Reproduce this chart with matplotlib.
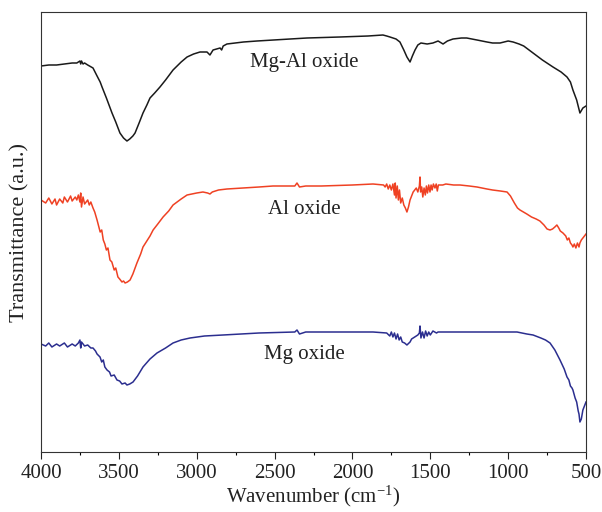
import matplotlib
matplotlib.use("Agg")
import matplotlib.pyplot as plt
from matplotlib.ticker import MultipleLocator

plt.rcParams['font.family'] = ['Liberation Serif', 'DejaVu Serif']
plt.rcParams['mathtext.fontset'] = 'custom'
plt.rcParams['mathtext.rm'] = 'Liberation Serif'
plt.rcParams['mathtext.it'] = 'Liberation Serif:italic'

# ---- data (arbitrary transmittance units, curves offset/stacked) ----
mgal_w = [4000, 3950, 3900, 3850, 3800, 3770, 3760, 3750, 3745, 3740,
          3730, 3720, 3700, 3666, 3640, 3620, 3608, 3580, 3544, 3520,
          3493, 3470, 3448, 3430, 3410, 3396, 3370, 3345, 3320, 3300,
          3270, 3236, 3200, 3152, 3100, 3062, 3020, 2979, 2934, 2915,
          2895, 2850, 2840, 2830, 2806, 2700, 2613, 2400, 2292, 2080,
          1900, 1804, 1780, 1759, 1720, 1695, 1670, 1650, 1630, 1615,
          1598, 1580, 1560, 1520, 1483, 1450, 1418, 1390, 1354, 1300,
          1266, 1200, 1136, 1100, 1052, 1000, 968, 930, 900, 840,
          780, 712, 660, 622, 600, 584, 560, 539, 520, 500]
mgal_t = [386, 387, 387, 388, 389, 389, 390, 391, 388, 391,
          388, 389, 387, 384, 376, 370, 365, 354, 339, 330,
          319, 314, 311, 313, 316, 319, 329, 339, 347, 354,
          359, 365, 372, 382, 390, 395, 398, 400, 400, 397,
          402, 404, 402, 406, 408, 410, 411, 413, 414, 415,
          416, 417, 416, 415, 413, 410, 402, 395, 390, 396,
          402, 407, 409, 408, 409, 411, 408, 411, 413, 414,
          414, 412, 410, 409, 409, 411, 410, 408, 406, 399,
          392, 385, 380, 375, 370, 362, 352, 339, 344, 346]

al_w = [4000, 3970, 3950, 3930, 3910, 3900, 3880, 3860, 3850, 3830,
        3810, 3800, 3780, 3770, 3760, 3750, 3745, 3740, 3730, 3720,
        3700, 3690, 3680, 3666, 3655, 3640, 3630, 3620, 3610, 3600,
        3590, 3580, 3570, 3557, 3545, 3530, 3520, 3506, 3495, 3480,
        3470, 3460, 3445, 3428, 3410, 3384, 3360, 3345, 3320, 3300,
        3280, 3250, 3216, 3180, 3152, 3100, 3062, 3000, 2960, 2930,
        2915, 2900, 2860, 2806, 2700, 2600, 2510, 2370, 2356, 2340,
        2300, 2200, 2000, 1868, 1800, 1790, 1780, 1770, 1760, 1750,
        1740, 1730, 1725, 1720, 1712, 1705, 1698, 1690, 1680, 1670,
        1660, 1650, 1640, 1630, 1620, 1610, 1600, 1590, 1580, 1570,
        1566, 1562, 1555, 1548, 1540, 1532, 1525, 1518, 1510, 1502,
        1495, 1488, 1480, 1470, 1462, 1455, 1448, 1420, 1400, 1350,
        1309, 1250, 1200, 1136, 1100, 1050, 1007, 985, 960, 940,
        924, 880, 850, 820, 796, 770, 750, 731, 715, 700,
        687, 675, 665, 648, 630, 620, 610, 600, 590, 584,
        575, 565, 555, 545, 539, 530, 520, 510, 500]
al_t = [252, 249, 254, 248, 253, 247, 253, 249, 255, 250,
        256, 251, 255, 252, 257, 250, 259, 245, 255, 248,
        252, 247, 250, 244, 240, 232, 226, 220, 222, 212,
        208, 202, 204, 192, 190, 182, 184, 175, 173, 170,
        171, 169, 170, 172, 178, 189, 198, 205, 211, 216,
        222, 228, 235, 241, 247, 253, 257, 259, 260, 259,
        258, 260, 262, 263, 264, 265, 266, 266, 269, 265,
        266, 266, 267, 268, 267, 265, 268, 263, 267, 262,
        268, 257, 269, 254, 266, 252, 262, 249, 254, 247,
        244, 240, 245, 252, 256, 260, 262, 264, 260, 266,
        275, 260, 265, 255, 264, 257, 266, 259, 267, 260,
        267, 262, 268, 264, 268, 261, 267, 267, 268, 267,
        267, 266, 265, 263, 262, 261, 260, 256, 249, 244,
        242, 238, 235, 233, 231, 227, 223, 222, 223, 225,
        227, 224, 221, 219, 216, 212, 214, 209, 207, 205,
        208, 204, 209, 205, 209, 212, 214, 216, 218]

mg_w = [4000, 3970, 3950, 3930, 3900, 3880, 3850, 3830, 3800, 3780,
        3760, 3750, 3745, 3740, 3720, 3700, 3680, 3666, 3650, 3640,
        3621, 3610, 3600, 3590, 3576, 3560, 3550, 3530, 3512, 3495,
        3480, 3460, 3448, 3430, 3409, 3380, 3345, 3300, 3255, 3200,
        3152, 3100, 3043, 2950, 2831, 2600, 2370, 2356, 2340, 2300,
        2000, 1868, 1780, 1760, 1750, 1740, 1730, 1720, 1710, 1700,
        1690, 1680, 1665, 1650, 1630, 1620, 1600, 1580, 1570, 1566,
        1560, 1550, 1540, 1530, 1520, 1510, 1500, 1483, 1460, 1450,
        1266, 1100, 943, 880, 840, 790, 760, 731, 700, 667,
        640, 622, 610, 600, 590, 584, 570, 560, 550, 545,
        539, 530, 520, 510, 500]
mg_t = [108, 106, 109, 105, 108, 106, 109, 105, 108, 106,
        109, 112, 104, 110, 106, 107, 104, 104, 101, 98,
        95, 90, 92, 85, 82, 80, 76, 77, 72, 71,
        68, 69, 67, 68, 70, 76, 85, 93, 99, 104,
        109, 112, 114, 116, 117, 119, 120, 122, 118, 120,
        120, 120, 119, 116, 120, 115, 119, 113, 118, 112,
        115, 110, 109, 107, 110, 113, 115, 117, 119, 126,
        114, 120, 114, 121, 116, 120, 117, 121, 119, 120,
        120, 120, 120, 118, 117, 114, 112, 109, 102, 92,
        83, 75, 72, 66, 64, 62, 54, 50, 41, 38,
        30, 33, 42, 46, 50]

labels = ['Mg-Al oxide', 'Al oxide', 'Mg oxide']
colors = ['#1a1a1a', '#EF4123', '#2B2E8F']
label_pos = [(2310, 390), (2310, 243), (2310, 97)]

series = [(mgal_w, mgal_t), (al_w, al_t), (mg_w, mg_t)]

fig = plt.figure(figsize=(6.02, 5.12), dpi=100)
ax = fig.add_axes([41/602, 1-452/512, 545/602, 440/512])

for (w, t), c, lab, (lx, ly) in zip(series, colors, labels, label_pos):
    ax.plot(w, t, color=c, lw=1.1)
    ax.text(lx, ly, lab, ha='center', va='center', fontsize=15, color='#222222')

ax.set_xlim(4000, 500)
ax.set_ylim(0, 440)
ax.xaxis.set_major_locator(MultipleLocator(500))
ax.xaxis.set_minor_locator(MultipleLocator(250))
ax.set_yticks([])
ax.tick_params(axis='x', which='major', direction='out', length=5, width=0.8,
               labelsize=15, colors='#222222')
ax.tick_params(axis='x', which='minor', direction='out', length=2.5, width=0.8)
for s in ax.spines.values():
    s.set_linewidth(0.8)
    s.set_color('#333333')

ax.set_xlabel('Wavenumber (cm$^{-1}$)', fontsize=15, color='#222222', labelpad=1)
ax.set_ylabel('Transmittance (a.u.)', fontsize=16, color='#222222', labelpad=8)

fig.savefig('out.png', dpi=100)
